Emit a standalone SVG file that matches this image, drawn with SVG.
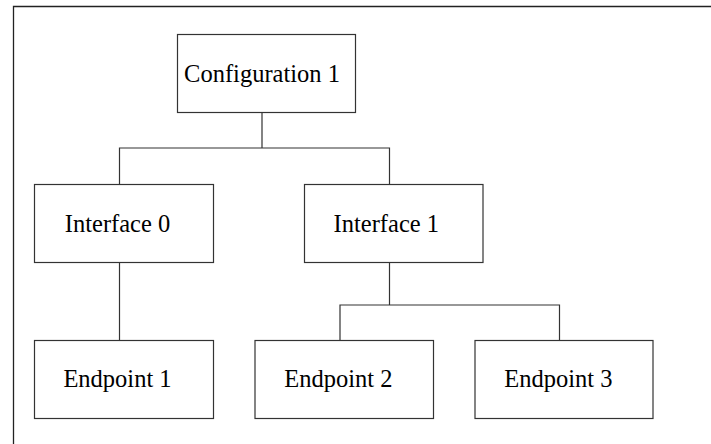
<svg xmlns="http://www.w3.org/2000/svg" width="711" height="444" viewBox="0 0 711 444">
  <style>
    .box { fill: #ffffff; stroke: #333333; stroke-width: 1.2; }
    .wire { fill: none; stroke: #333333; stroke-width: 1.2; }
    .label { font-family: "Liberation Serif", "Times New Roman", serif; font-size: 24.5px; fill: #000000; text-anchor: middle; }
    .frame { fill: none; stroke: #222222; stroke-width: 1.3; }
  </style>
  <rect width="711" height="444" fill="#ffffff"/>
  <!-- outer frame (top and left edges) -->
  <path class="frame" d="M13.5,444 V6.5 H711"/>

  <g id="connectors">
    <path class="wire" d="M262,112.5 V148 M119.5,184.5 V148 H389.5 V184.5"/>
    <path class="wire" d="M119.5,262.5 V340.5"/>
    <path class="wire" d="M389.5,262.5 V305 M340,340.5 V305 H559.5 V340.5"/>
  </g>

  <g id="configuration1">
    <rect class="box" x="177.5" y="34.5" width="178" height="78"/>
    <text class="label" x="262" y="82.3">Configuration 1</text>
  </g>
  <g id="interface0">
    <rect class="box" x="34.5" y="184.5" width="179" height="78"/>
    <text class="label" x="117.5" y="231.5">Interface 0</text>
  </g>
  <g id="interface1">
    <rect class="box" x="304.5" y="184.5" width="178.5" height="78"/>
    <text class="label" x="386.3" y="231.5">Interface 1</text>
  </g>
  <g id="endpoint1">
    <rect class="box" x="34.5" y="340.5" width="179" height="78"/>
    <text class="label" x="117.5" y="386.7">Endpoint 1</text>
  </g>
  <g id="endpoint2">
    <rect class="box" x="255" y="340.5" width="178.5" height="78"/>
    <text class="label" x="338.3" y="386.7">Endpoint 2</text>
  </g>
  <g id="endpoint3">
    <rect class="box" x="475" y="340.5" width="178" height="78"/>
    <text class="label" x="558.3" y="386.7">Endpoint 3</text>
  </g>
</svg>
